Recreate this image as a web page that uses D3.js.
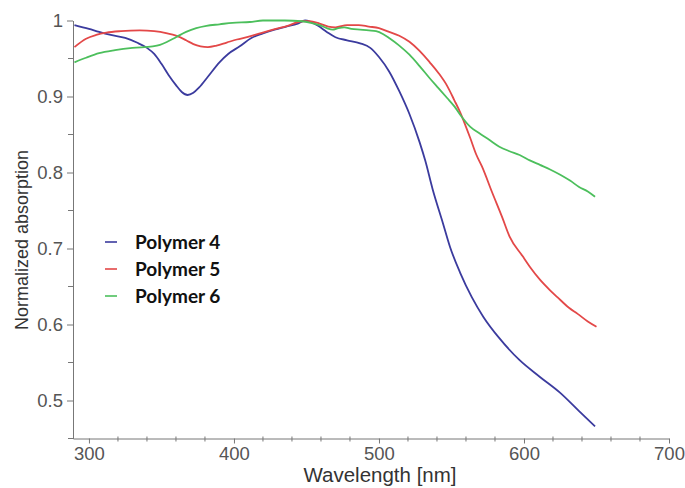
<!DOCTYPE html>
<html>
<head>
<meta charset="utf-8">
<script src="https://cdn.jsdelivr.net/npm/d3@7"></script>
<style>
  html, body { margin: 0; padding: 0; background: #fff; }
  svg { display: block; }
  .axis text { font-family: "Liberation Sans", Arial, sans-serif; font-size: 18.5px; fill: #555; }
  .axis path, .axis line { stroke: #777; stroke-width: 1; }
  .title { font-family: "Liberation Sans", Arial, sans-serif; font-size: 18px; fill: #333; }
  .title.x { font-size: 20.5px; }
  .legend text { font-family: Lato, "Open Sans", sans-serif; font-weight: bold; font-size: 19px; fill: #111; }
</style>
</head>
<body>
<svg id="chart" width="685" height="488"></svg>
<script>
// Normalized UV-vis absorption spectra, wavelength in nm
const seriesNames = ["Polymer 4", "Polymer 5", "Polymer 6"];
const seriesColors = ["#3b3b9e", "#e34848", "#4cbf5c"];

const poly4Wavelength = [290, 300, 307, 315, 325, 333, 340, 345, 350, 355, 360, 364, 368, 372, 376, 382, 390, 396, 404, 412, 420, 428, 436, 444, 449, 453, 458, 464, 470, 478, 487, 494, 500, 507, 514, 521, 528, 532, 537, 544, 549, 556, 564, 572, 583, 597, 611, 625, 638, 649];
const poly4Absorption = [0.994, 0.989, 0.985, 0.981, 0.977, 0.971, 0.964, 0.956, 0.943, 0.928, 0.915, 0.906, 0.902, 0.905, 0.912, 0.926, 0.945, 0.956, 0.966, 0.977, 0.983, 0.988, 0.992, 0.996, 1.000, 0.998, 0.993, 0.985, 0.978, 0.974, 0.970, 0.964, 0.952, 0.933, 0.907, 0.877, 0.840, 0.815, 0.778, 0.734, 0.702, 0.668, 0.636, 0.610, 0.582, 0.553, 0.531, 0.510, 0.486, 0.466];

const poly5Wavelength = [290, 298, 305, 312, 322, 335, 345, 354, 360, 367, 372, 377, 382, 388, 395, 402, 409, 418, 427, 437, 447, 452, 459, 465, 470, 478, 486, 493, 500, 507, 514, 521, 528, 535, 541, 547, 552, 556, 560, 563, 567, 571, 578, 585, 590, 599, 604, 611, 618, 623, 631, 637, 644, 650];
const poly5Absorption = [0.965, 0.976, 0.981, 0.984, 0.986, 0.987, 0.986, 0.983, 0.980, 0.974, 0.969, 0.966, 0.965, 0.967, 0.971, 0.975, 0.978, 0.983, 0.988, 0.993, 0.999, 0.999, 0.996, 0.992, 0.991, 0.994, 0.994, 0.992, 0.990, 0.985, 0.980, 0.972, 0.960, 0.945, 0.931, 0.914, 0.895, 0.879, 0.860, 0.845, 0.824, 0.808, 0.774, 0.741, 0.716, 0.690, 0.676, 0.659, 0.645, 0.636, 0.622, 0.614, 0.604, 0.597];

const poly6Wavelength = [290, 298, 307, 318, 330, 344, 349, 354, 360, 367, 374, 381, 390, 399, 411, 420, 435, 447, 453, 459, 464, 468, 472, 476, 481, 487, 493, 498, 503, 507, 514, 521, 528, 535, 541, 547, 552, 556, 563, 569, 576, 583, 590, 597, 604, 611, 618, 625, 632, 638, 644, 649];
const poly6Absorption = [0.945, 0.951, 0.957, 0.961, 0.964, 0.966, 0.968, 0.972, 0.978, 0.985, 0.990, 0.993, 0.995, 0.997, 0.998, 1.000, 1.000, 0.999, 0.997, 0.994, 0.990, 0.988, 0.990, 0.991, 0.989, 0.988, 0.987, 0.986, 0.982, 0.977, 0.967, 0.955, 0.940, 0.924, 0.911, 0.898, 0.887, 0.876, 0.860, 0.852, 0.843, 0.834, 0.828, 0.823, 0.816, 0.810, 0.804, 0.797, 0.789, 0.781, 0.775, 0.768];

const xTickValues = [300, 400, 500, 600, 700];
const xMinorTicks = d3.range(300, 701, 20);
const yTickValues = [0.5, 0.6, 0.7, 0.8, 0.9, 1.0];
const yMinorTicks = [0.45, 0.55, 0.65, 0.75, 0.85, 0.95];

const series = [
  { name: seriesNames[0], color: seriesColors[0], w: poly4Wavelength, a: poly4Absorption },
  { name: seriesNames[1], color: seriesColors[1], w: poly5Wavelength, a: poly5Absorption },
  { name: seriesNames[2], color: seriesColors[2], w: poly6Wavelength, a: poly6Absorption }
];

const svg = d3.select("#chart");
const plotLeft = 73, plotRight = 669, plotTop = 20.5, plotBottom = 438.5;

const x = d3.scaleLinear().domain([289, 700]).range([plotLeft, plotRight]);
const y = d3.scaleLinear().domain([0.45, 1.0]).range([plotBottom, plotTop]);

// minor ticks
const minor = svg.append("g").attr("class", "axis");
minor.selectAll("line.xm").data(xMinorTicks.filter(v => !xTickValues.includes(v)))
  .join("line").attr("class", "xm")
  .attr("x1", d => x(d)).attr("x2", d => x(d))
  .attr("y1", plotBottom - 2).attr("y2", plotBottom + 3);
minor.selectAll("line.ym").data(yMinorTicks)
  .join("line").attr("class", "ym")
  .attr("x1", plotLeft - 5).attr("x2", plotLeft)
  .attr("y1", d => y(d)).attr("y2", d => y(d));

// x axis
svg.append("g").attr("class", "axis")
  .attr("transform", `translate(0,${plotBottom})`)
  .call(d3.axisBottom(x).tickValues(xTickValues).tickSizeInner(5).tickSizeOuter(0).tickPadding(3).tickFormat(d3.format("d")));

// y axis
svg.append("g").attr("class", "axis")
  .attr("transform", `translate(${plotLeft},0)`)
  .call(d3.axisLeft(y).tickValues(yTickValues).tickSizeInner(6).tickSizeOuter(0).tickPadding(4)
    .tickFormat(d => d === 1 ? "1" : d3.format(".1f")(d)));

// axis titles
svg.append("text").attr("class", "title x")
  .attr("x", 380).attr("y", 482).attr("text-anchor", "middle")
  .text("Wavelength [nm]");
svg.append("text").attr("class", "title")
  .attr("transform", "translate(28,240) rotate(-90)")
  .attr("text-anchor", "middle")
  .text("Normalized absorption");

// spectra
const line = d3.line()
  .x(d => x(d[0]))
  .y(d => y(d[1]))
  .curve(d3.curveMonotoneX);

svg.append("g").selectAll("path")
  .data(series)
  .join("path")
  .attr("fill", "none")
  .attr("stroke", d => d.color)
  .attr("stroke-width", 1.8)
  .attr("stroke-linejoin", "round")
  .attr("d", d => line(d.w.map((w, i) => [w, d.a[i]])));

// legend
const legend = svg.append("g").attr("class", "legend");
const items = legend.selectAll("g").data(series).join("g")
  .attr("transform", (d, i) => `translate(105,${242 + i * 27})`);
items.append("line")
  .attr("x1", 0).attr("x2", 12).attr("y1", 0).attr("y2", 0)
  .attr("stroke", d => d.color).attr("stroke-width", 1.6);
items.append("text")
  .attr("x", 30).attr("y", 0).attr("dy", "0.36em")
  .text(d => d.name);
</script>
</body>
</html>
